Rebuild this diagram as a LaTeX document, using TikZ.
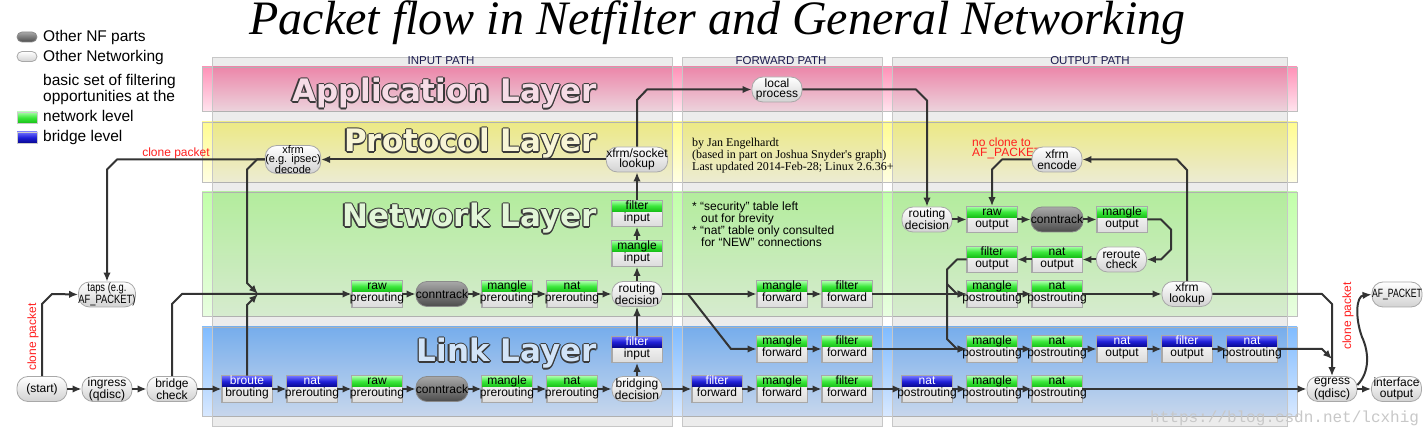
\documentclass[tikz,border=0pt]{standalone}
\usepackage{fontspec}
\usepackage{graphicx}
\setmainfont{Liberation Sans}
\newfontfamily\serifF{Liberation Serif}
\newfontfamily\layerF{DejaVu Sans}
\newfontfamily\monoF{Liberation Mono}
\usetikzlibrary{arrows.meta}

\definecolor{lineC}{HTML}{333333}
\definecolor{redC}{HTML}{FF2020}
\definecolor{pillB}{HTML}{A8A8A8}
\definecolor{pillBot}{HTML}{D2D2D2}
\definecolor{boxBot}{HTML}{DCDCDC}
\definecolor{dTop}{HTML}{A8A8A8}
\definecolor{dBot}{HTML}{4C4C4C}
\definecolor{dBorder}{HTML}{8A8A8A}
\definecolor{gTop}{HTML}{A8FFA8}
\definecolor{gMid}{HTML}{3CE83C}
\definecolor{gBot}{HTML}{18C018}
\definecolor{bTop}{HTML}{7070FF}
\definecolor{bMid}{HTML}{2020D8}
\definecolor{bBot}{HTML}{080890}
\definecolor{appTop}{HTML}{FF92B8}
\definecolor{appBot}{HTML}{FFE4EE}
\definecolor{proTop}{HTML}{FFFC90}
\definecolor{proBot}{HTML}{FFFEE4}
\definecolor{netTop}{HTML}{C2FFAA}
\definecolor{netBot}{HTML}{E8FEE0}
\definecolor{linkTop}{HTML}{80BCFF}
\definecolor{linkBot}{HTML}{D8E8FF}
\definecolor{ltOut}{HTML}{3A3A3A}
\definecolor{appT}{HTML}{F6DCE6}
\definecolor{proT}{HTML}{F8F5D6}
\definecolor{netT}{HTML}{E2F6D8}
\definecolor{linkT}{HTML}{D2E4F8}
\definecolor{pathC}{HTML}{1C1C50}
\definecolor{wmC}{HTML}{C8C8C8}

\tikzset{
  conn/.style={draw=lineC, line width=2pt, line join=round, -{Latex[length=9pt,width=7.5pt]}},
  pill/.style={rectangle, rounded corners=11pt, minimum width=50pt, minimum height=25pt, inner sep=0pt, draw=pillB, line width=0.8pt, top color=white, bottom color=pillBot, align=center, font=\fontsize{12}{10.5}\selectfont},
  dpill/.style={pill, top color=dTop, bottom color=dBot, draw=dBorder},
  tblbox/.style={rectangle, minimum width=50pt, minimum height=26pt, inner sep=0pt, draw=pillB, line width=0.8pt, top color=white, bottom color=boxBot},
  bargreen/.style={top color=gTop, bottom color=gBot, middle color=gMid},
  barblue/.style={top color=bTop, bottom color=bBot, middle color=bMid},
  txtgreen/.style={anchor=base, inner sep=0pt, font=\fontsize{12}{12}\selectfont, text=black},
  txtblue/.style={txtgreen, text=white},
  txtbot/.style={txtgreen},
  layerband/.style={draw=black!25, line width=0.8pt},
  column/.style={fill=black, fill opacity=0.075, draw=black!22, line width=0.8pt},
  ltxt/.style={anchor=base east, inner sep=0pt, font=\layerF\bfseries\fontsize{31}{31}\selectfont},
  legtxt/.style={anchor=base west, inner sep=0pt, font=\fontsize{15.5}{15.5}\selectfont},
  redtxt/.style={inner sep=0pt, font=\fontsize{12}{10}\selectfont, text=redC},
  pathlbl/.style={anchor=base, inner sep=0pt, font=\fontsize{11.5}{11.5}\selectfont, text=pathC},
  note/.style={anchor=base west, inner sep=0pt, font=\fontsize{12}{12}\selectfont},
  auth/.style={anchor=base west, inner sep=0pt, font=\serifF\fontsize{12}{12}\selectfont},
}

% table box: name, x, y, colour (green/blue), top text, bottom text
\newcommand\tbx[6]{%
  \node[tblbox] (#1) at (#2,#3) {};
  \path[bar#4] ([shift={(0.4pt,-0.4pt)}]#1.north west) rectangle ([shift={(-0.4pt,-11pt)}]#1.north east);
  \draw[draw=pillB, line width=0.8pt] (#1.north west) rectangle (#1.south east);
  \node[txt#4] (#1t) at ([yshift=4pt]#1.center) {#5};
  \node[txtbot] (#1b) at ([yshift=-8pt]#1.center) {#6};
}
% outlined layer title: name, x, y, fill colour, text
\newcommand\ltitle[5]{%
  \foreach \dx/\dy [count=\k] in {1.3/0,-1.3/0,0/1.3,0/-1.3,0.9/0.9,-0.9/0.9,0.9/-0.9,-0.9/-0.9}{
    \node[ltxt, text=ltOut] (#1o\k) at ([shift={(\dx pt,\dy pt)}]#2,#3) {#5};}
  \node[ltxt, text=#4] (#1) at (#2,#3) {#5};
}

\begin{document}
\begin{tikzpicture}[x=1pt,y=-1pt]
\useasboundingbox (0,0) rectangle (1428,427);
\fill[white] (0,0) rectangle (1428,427);

% ---- layer bands
\path[layerband, top color=appTop, bottom color=appBot] (202,67) rectangle (1297,111);
\path[layerband, top color=proTop, bottom color=proBot] (202,122) rectangle (1297,182);
\path[layerband, top color=netTop, bottom color=netBot] (202,192) rectangle (1297,316);
\path[layerband, top color=linkTop, bottom color=linkBot] (202,327) rectangle (1297,416);

% ---- path columns
\path[column] (212,57) rectangle (672,426);
\path[column] (682,57) rectangle (882,426);
\path[column] (892,57) rectangle (1287,426);
\node[pathlbl] (pin) at (441,65) {INPUT PATH};
\node[pathlbl] (pfw) at (781,65) {FORWARD PATH};
\node[pathlbl] (pout) at (1090,65) {OUTPUT PATH};

% ---- titles
\node[anchor=base, inner sep=0pt, font=\serifF\itshape\fontsize{48}{50}\selectfont] (title) at (717.5,35) {Packet flow in Netfilter and General Networking};
\ltitle{appL}{597}{102}{appT}{Application Layer}
\ltitle{proL}{597}{152}{proT}{Protocol Layer}
\ltitle{netL}{597}{227}{netT}{Network Layer}
\ltitle{linkL}{597}{362}{linkT}{Link Layer}

% ---- legend
\node[dpill, minimum width=20pt, minimum height=10pt, rounded corners=5pt] (legNF) at (27,37) {};
\node[pill, minimum width=20pt, minimum height=10pt, rounded corners=5pt] (legNW) at (27,56.5) {};
\node[rectangle, minimum width=20pt, minimum height=11pt, inner sep=0pt, bargreen, draw=black!20] (legG) at (27,117.5) {};
\node[rectangle, minimum width=20pt, minimum height=11pt, inner sep=0pt, barblue, draw=black!20] (legB) at (27,137.5) {};
\node[legtxt] (lt1) at (43,42) {Other NF parts};
\node[legtxt] (lt2) at (43,62) {Other Networking};
\node[legtxt] (lt3) at (43,86) {basic set of filtering};
\node[legtxt] (lt4) at (43,102) {opportunities at the};
\node[legtxt] (lt5) at (43,122) {network level};
\node[legtxt] (lt6) at (43,142) {bridge level};

% ---- texts
\node[auth] (au1) at (692,147) {by Jan Engelhardt};
\node[auth] (au2) at (692,159) {(based in part on Joshua Snyder's graph)};
\node[auth] (au3) at (692,171) {Last updated 2014-Feb-28; Linux 2.6.36+};
\node[note] (no1) at (692,211) {* “security” table left};
\node[note] (no2) at (701,223) {out for brevity};
\node[note] (no3) at (692,235) {* “nat” table only consulted};
\node[note] (no4) at (701,247) {for “NEW” connections};
\node[redtxt, anchor=base] (clone2) at (176,157) {clone packet};
\node[redtxt, rotate=90] (clone1) at (33,337) {clone packet};
\node[redtxt, rotate=90] (clone3) at (1348,316) {clone packet};
\node[redtxt, anchor=base west] (nc1) at (972,146.5) {no clone to};
\node[redtxt, anchor=base west] (nc2) at (972,156.5) {AF\_PACKET};
\node[anchor=base west, inner sep=0pt, font=\monoF\fontsize{16}{16}\selectfont, text=wmC] (wm) at (1150,422.5) {https://blog.csdn.net/lcxhig};

% ---- pills
\node[pill] (start) at (42,389) {(start)};
\node[pill] (ingress) at (107,389) {ingress\\(qdisc)};
\node[pill] (bcheck) at (172,389) {bridge\\check};
\node[dpill] (lct) at (442,389) {conntrack};
\node[pill] (bridging) at (637,389) {bridging\\decision};
\node[pill] (egress) at (1332,389) {egress\\(qdisc)};
\node[pill] (ifout) at (1396.5,389) {interface\\output};
\node[pill] (taps) at (107,294.5) {\scalebox{0.78}[1]{taps (e.g.}\\\scalebox{0.78}[1]{AF\_PACKET)}};
\node[dpill] (ctpre) at (442,294) {conntrack};
\node[pill] (rdin) at (637,294) {routing\\decision};
\node[pill] (socklk) at (637,159.5) {xfrm/socket\\lookup};
\node[pill, font=\fontsize{11}{8.5}\selectfont] (decode) at (293,159.5) {xfrm\\(e.g. ipsec)\\decode};
\node[pill] (local) at (777,89.5) {local\\process};
\node[pill] (rdout) at (927,219.5) {routing\\decision};
\node[dpill] (ctout) at (1057,219.5) {conntrack};
\node[pill] (reroute) at (1121.5,259.5) {reroute\\check};
\node[pill] (xlookup) at (1187,294) {xfrm\\lookup};
\node[pill] (encode) at (1057,159.5) {xfrm\\encode};
\node[pill] (afp) at (1397,294.5) {\scalebox{0.72}[1]{AF\_PACKET}};

% ---- table boxes
\tbx{rawpre}{377}{294}{green}{raw}{prerouting}
\tbx{mpre}{507}{294}{green}{mangle}{prerouting}
\tbx{npre}{572}{294}{green}{nat}{prerouting}
\tbx{minput}{637}{253.5}{green}{mangle}{input}
\tbx{finput}{637}{213.5}{green}{filter}{input}
\tbx{mfwd}{782}{294}{green}{mangle}{forward}
\tbx{ffwd}{847}{294}{green}{filter}{forward}
\tbx{mpost}{992}{294}{green}{mangle}{postrouting}
\tbx{npost}{1057}{294}{green}{nat}{postrouting}
\tbx{rawout}{992}{219.5}{green}{raw}{output}
\tbx{mout}{1122}{219.5}{green}{mangle}{output}
\tbx{filout}{992}{259.5}{green}{filter}{output}
\tbx{natout}{1057}{259.5}{green}{nat}{output}
\tbx{lfilin}{637}{349.5}{blue}{filter}{input}
\tbx{lmfwd}{782}{349}{green}{mangle}{forward}
\tbx{lffwd}{847}{349}{green}{filter}{forward}
\tbx{lmpost}{992}{349}{green}{mangle}{postrouting}
\tbx{lnpost}{1057}{349}{green}{nat}{postrouting}
\tbx{lnatout}{1122}{349}{blue}{nat}{output}
\tbx{lfilout}{1187}{349}{blue}{filter}{output}
\tbx{lnatpost2}{1252}{349}{blue}{nat}{postrouting}
\tbx{broute}{247}{389}{blue}{broute}{brouting}
\tbx{lnatpre}{312}{389}{blue}{nat}{prerouting}
\tbx{lrawpre}{377}{389}{green}{raw}{prerouting}
\tbx{lmpre}{507}{389}{green}{mangle}{prerouting}
\tbx{lnpre}{572}{389}{green}{nat}{prerouting}
\tbx{lbffw}{717}{389}{blue}{filter}{forward}
\tbx{lbmfw}{782}{389}{green}{mangle}{forward}
\tbx{lbfilfw}{847}{389}{green}{filter}{forward}
\tbx{lbnatpost}{927}{389}{blue}{nat}{postrouting}
\tbx{lbmpost}{992}{389}{green}{mangle}{postrouting}
\tbx{lbnpost}{1057}{389}{green}{nat}{postrouting}

% ---- straight connectors
\foreach \a/\b in {start/ingress, ingress/bcheck, bcheck/broute, broute/lnatpre, lnatpre/lrawpre, lrawpre/lct, lct/lmpre, lmpre/lnpre, lnpre/bridging, bridging/lbffw, lbffw/lbmfw, lbmfw/lbfilfw, lbfilfw/lbnatpost, lbnatpost/lbmpost, lbmpost/lbnpost, lbnpost/egress, egress/ifout,
  rawpre/ctpre, ctpre/mpre, mpre/npre, npre/rdin, rdin/mfwd, mfwd/ffwd, ffwd/mpost, mpost/npost, npost/xlookup,
  lmfwd/lffwd, lffwd/lmpost, lmpost/lnpost, lnpost/lnatout, lnatout/lfilout, lfilout/lnatpost2,
  rdout/rawout, rawout/ctout, ctout/mout}
  \draw[conn] (\a.east) -- (\b.west);
\draw[conn] (reroute.west) -- (natout.east);
\draw[conn] (natout.west) -- (filout.east);
\foreach \a/\b in {bridging/lfilin, lfilin/rdin, rdin/minput, minput/finput, finput/socklk}
  \draw[conn] (\a.north) -- (\b.south);
\draw[conn] (socklk.west) -- (decode.east);

% ---- bent connectors
\coordinate (mergeA) at (258,294);
\coordinate (forkA) at (688,294);
\coordinate (splitB) at (947,284);
\coordinate (joinE) at (1332,359);
\draw[conn] (bcheck.north) -- (172,304) -- (182,294) -- (rawpre.west);
\draw[conn] (broute.north) -- (247,305) -- (mergeA);
\draw[conn] (decode.west) -- (257,159.5) -- (247,169.5) -- (247,283) -- (mergeA);
\draw[conn] (decode.west) -- (117,159.5) -- (107,169.5) -- (taps.north);
\draw[conn] (start.north) -- (42,304) -- (52,294) -- (taps.west);
\draw[conn] (socklk.north) -- (637,100) -- (647,89.5) -- (local.west);
\draw[conn] (local.east) -- (916,89.5) -- (927,100.5) -- (rdout.north);
\draw[conn] (forkA) -- (731,349) -- (lmfwd.west);
\draw[conn] (filout.west) -- (957,259.5) -- (947,269.5) -- (splitB) -- (957,294) -- (mpost.west);
\draw[conn] (splitB) -- (947,339) -- (957,349) -- (lmpost.west);
\draw[conn] (xlookup.east) -- (1322,294) -- (1332,304) -- (egress.north);
\draw[conn] (lnatpost2.east) -- (1322,349) -- (joinE);
\draw[conn] (xlookup.north) -- (1187,170) -- (1177,159.5) -- (encode.east);
\draw[conn] (encode.west) -- (1002,159.5) -- (992,169.5) -- (rawout.north);
\draw[conn] (mout.east) -- (1161,219.5) -- (1171,229.5) -- (1171,249.5) -- (1161,259.5) -- (reroute.east);
\draw[conn] ([yshift=4pt]egress.east) .. controls (1370,372) and (1369,352) .. (1362,337) .. controls (1355,318) and (1356,296) .. (afp.west);
\end{tikzpicture}
\end{document}
